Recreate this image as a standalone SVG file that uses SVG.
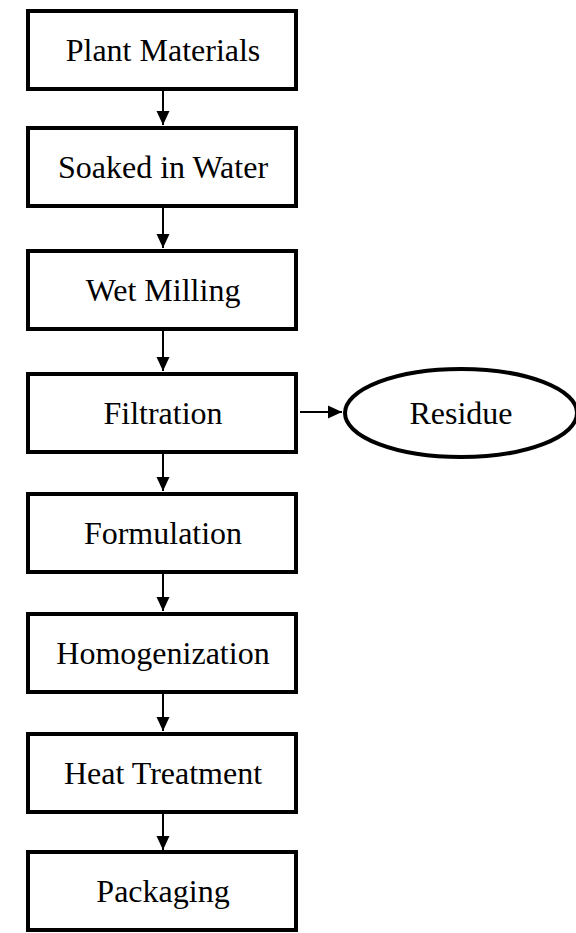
<svg xmlns="http://www.w3.org/2000/svg" width="576" height="933" viewBox="0 0 576 933">
<style>
.box{fill:#fff;stroke:#000;stroke-width:4}
.lbl{font-family:'Liberation Serif','DejaVu Serif',serif;font-size:32px;fill:#000;text-anchor:middle}
.conn{stroke:#000;stroke-width:2;fill:none}
</style>
<defs>
<marker id="ah" markerWidth="14" markerHeight="16" refX="14" refY="8" orient="auto" markerUnits="userSpaceOnUse">
<path d="M0,1.5 L14,8 L0,14.5 Z" fill="#000"/>
</marker>
</defs>
<rect width="576" height="933" fill="#fff"/>
<g id="connectors">
<line class="conn" x1="163" y1="91" x2="163" y2="125" marker-end="url(#ah)"/>
<line class="conn" x1="163" y1="208" x2="163" y2="248" marker-end="url(#ah)"/>
<line class="conn" x1="163" y1="331" x2="163" y2="371" marker-end="url(#ah)"/>
<line class="conn" x1="163" y1="454" x2="163" y2="491" marker-end="url(#ah)"/>
<line class="conn" x1="163" y1="574" x2="163" y2="611" marker-end="url(#ah)"/>
<line class="conn" x1="163" y1="694" x2="163" y2="731" marker-end="url(#ah)"/>
<line class="conn" x1="163" y1="814" x2="163" y2="850" marker-end="url(#ah)"/>
<line class="conn" x1="300" y1="412" x2="342" y2="412" marker-end="url(#ah)"/>
</g>
<g id="n1"><rect class="box" x="28" y="11" width="268" height="78"/><text class="lbl" x="163" y="61" font-family="Liberation Serif">Plant Materials</text></g>
<g id="n2"><rect class="box" x="28" y="128" width="268" height="78"/><text class="lbl" x="163" y="178" font-family="Liberation Serif">Soaked in Water</text></g>
<g id="n3"><rect class="box" x="28" y="251" width="268" height="78"/><text class="lbl" x="163" y="301" font-family="Liberation Serif">Wet Milling</text></g>
<g id="n4"><rect class="box" x="28" y="374" width="268" height="78"/><text class="lbl" x="163" y="424" font-family="Liberation Serif">Filtration</text></g>
<g id="n5"><rect class="box" x="28" y="494" width="268" height="78"/><text class="lbl" x="163" y="544" font-family="Liberation Serif">Formulation</text></g>
<g id="n6"><rect class="box" x="28" y="614" width="268" height="78"/><text class="lbl" x="163" y="664" font-family="Liberation Serif">Homogenization</text></g>
<g id="n7"><rect class="box" x="28" y="734" width="268" height="78"/><text class="lbl" x="163" y="784" font-family="Liberation Serif">Heat Treatment</text></g>
<g id="n8"><rect class="box" x="28" y="852" width="268" height="78"/><text class="lbl" x="163" y="902" font-family="Liberation Serif">Packaging</text></g>
<g id="n9"><ellipse cx="461" cy="413" rx="116" ry="44" fill="#fff" stroke="#000" stroke-width="4"/><text class="lbl" x="461" y="424" font-family="Liberation Serif">Residue</text></g>
</svg>
